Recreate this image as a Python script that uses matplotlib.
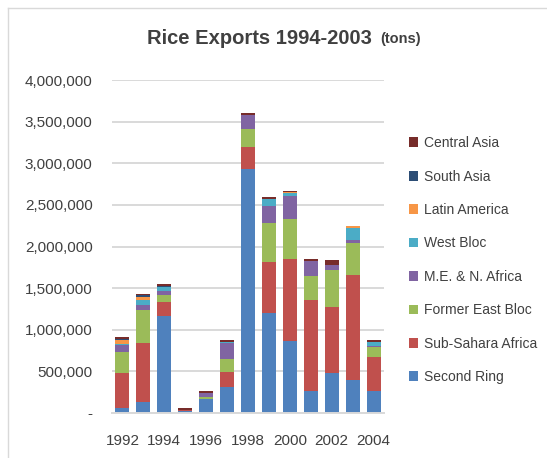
import matplotlib.pyplot as plt
import numpy as np
from matplotlib.ticker import FuncFormatter

plt.rcParams['font.family'] = ['Liberation Sans', 'DejaVu Sans']

years = list(range(1992, 2005))
second_ring = [60000, 136000, 1160000, 30000, 168000, 308000, 2936000, 1200000, 864000, 264000, 480000, 400000, 264000]
sub_sahara = [416000, 700000, 172000, 12000, 5000, 184000, 264000, 608000, 980000, 1088000, 796000, 1256000, 404000]
former_east = [252000, 404000, 84000, 0, 15000, 156000, 212000, 480000, 484000, 288000, 444000, 388000, 128000]
me_n_africa = [92000, 56000, 52000, 0, 56000, 188000, 172000, 204000, 284000, 188000, 56000, 32000, 6000]
west_bloc = [10000, 56000, 40000, 0, 0, 20000, 0, 84000, 36000, 0, 0, 152000, 54000]
latin_america = [52000, 36000, 0, 0, 0, 0, 0, 0, 6000, 0, 0, 20000, 0]
south_asia = [12000, 24000, 20000, 0, 0, 0, 0, 0, 0, 0, 0, 0, 0]
central_asia = [15000, 20000, 20000, 15000, 24000, 24000, 20000, 20000, 14000, 24000, 60000, 0, 24000]

series = [
    ("Second Ring", second_ring, "#4F81BD"),
    ("Sub-Sahara Africa", sub_sahara, "#C0504D"),
    ("Former East Bloc", former_east, "#9BBB59"),
    ("M.E. & N. Africa", me_n_africa, "#8064A2"),
    ("West Bloc", west_bloc, "#4BACC6"),
    ("Latin America", latin_america, "#F79646"),
    ("South Asia", south_asia, "#2C4D75"),
    ("Central Asia", central_asia, "#772C2A"),
]

fig = plt.figure(figsize=(5.47, 4.58), dpi=100)
ax = fig.add_axes([112 / 547, 45 / 458, 272 / 547, 333 / 458])

x = np.arange(len(years))
bottom = np.zeros(len(years))
handles = []
for name, vals, col in series:
    b = ax.bar(x, vals, 0.67, bottom=bottom, color=col, label=name, linewidth=0)
    handles.append(b)
    bottom += np.array(vals)

ax.set_xlim(-0.5, len(years) - 0.5)
ax.set_ylim(0, 4000000)
ax.set_yticks(np.arange(0, 4000001, 500000))
ax.yaxis.set_major_formatter(FuncFormatter(lambda v, p: '-' if v == 0 else f'{int(v):,}'))
ax.set_xticks(x[::2])
ax.set_xticklabels([str(y) for y in years[::2]])
ax.tick_params(length=0, labelsize=11, colors='#404040')
ax.tick_params(axis='y', pad=14)
ax.tick_params(axis='x', pad=15)
ax.grid(axis='y', color='#D9D9D9', linewidth=1.4)
ax.set_axisbelow(True)
for s in ['top', 'right', 'left']:
    ax.spines[s].set_visible(False)
ax.spines['bottom'].set_color('#D9D9D9')
ax.spines['bottom'].set_linewidth(1.4)

leg = fig.legend(handles[::-1], [s[0] for s in series][::-1], loc='upper left',
                 bbox_to_anchor=(0.737, 0.715), frameon=False, fontsize=10,
                 handlelength=0.7, handleheight=0.7, handletextpad=0.4,
                 labelspacing=1.4, labelcolor='#404040', borderaxespad=0)

fig.text(372 / 547, 0.917, "Rice Exports 1994-2003", ha='right', va='center',
         fontsize=14.5, fontweight='bold', color='#404040')
fig.text(380 / 547, 0.914, "(tons)", ha='left', va='center',
         fontsize=10.5, fontweight='bold', color='#404040')

# chart frame
fig.add_artist(plt.Line2D([8 / 547, 1], [1 - 8 / 458, 1 - 8 / 458], color='#D9D9D9', lw=1))
fig.add_artist(plt.Line2D([8 / 547, 8 / 547], [0, 1 - 8 / 458], color='#D9D9D9', lw=1))

fig.savefig('out.png', dpi=100)
